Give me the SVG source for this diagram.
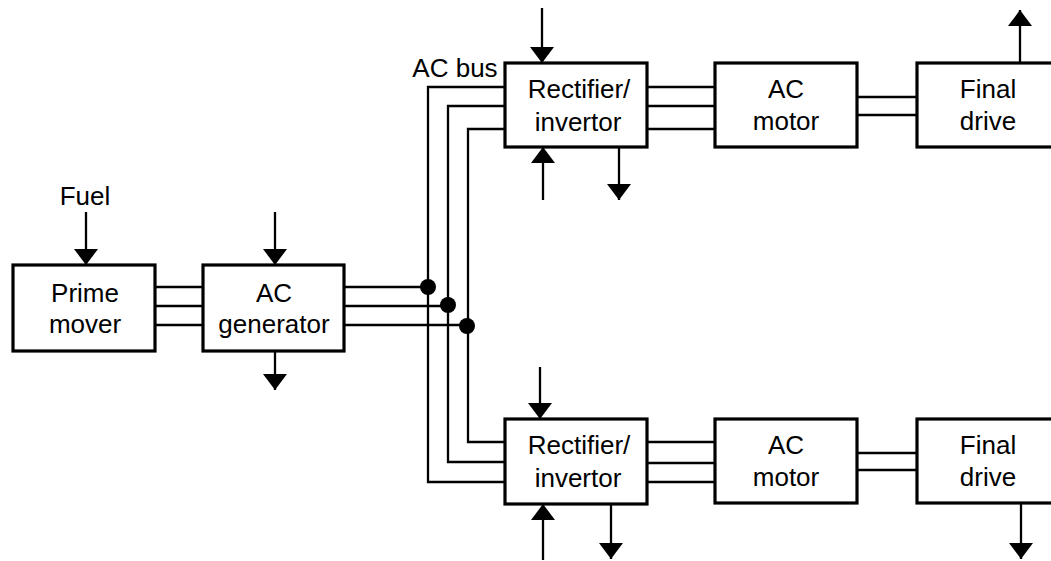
<svg xmlns="http://www.w3.org/2000/svg" width="1051" height="561" viewBox="0 0 1051 561">
<defs>
<marker id="ah" viewBox="0 0 16 24" refX="16" refY="12" markerWidth="16" markerHeight="24" markerUnits="userSpaceOnUse" orient="auto">
<path d="M0,0 L16,12 L0,24 Z" fill="#000"/>
</marker>
</defs>
<style>
.box{fill:#fff;stroke:#000;stroke-width:3.2}
.ln{fill:none;stroke:#000;stroke-width:2.3}
.ar{fill:none;stroke:#000;stroke-width:2.3;marker-end:url(#ah)}
.dot{fill:#000}
text{font-family:"Liberation Sans",Arial,sans-serif;font-size:26px;fill:#000;text-anchor:middle}
</style>
<rect width="1051" height="561" fill="#fff"/>
<g id="connectors">
<line class="ln" x1="155" y1="287" x2="203" y2="287"/>
<line class="ln" x1="155" y1="306" x2="203" y2="306"/>
<line class="ln" x1="155" y1="325" x2="203" y2="325"/>
<line class="ln" x1="344" y1="287" x2="428" y2="287"/>
<line class="ln" x1="344" y1="306" x2="448" y2="306"/>
<line class="ln" x1="344" y1="325" x2="467" y2="325"/>
<polyline class="ln" points="505,87 428,87 428,482 505,482"/>
<polyline class="ln" points="505,106 448,106 448,462 505,462"/>
<polyline class="ln" points="505,129 468,129 468,442 505,442"/>
<circle class="dot" cx="428" cy="287" r="8"/>
<circle class="dot" cx="448" cy="305" r="8"/>
<circle class="dot" cx="467" cy="326" r="8"/>
<line class="ln" x1="647" y1="87" x2="715" y2="87"/>
<line class="ln" x1="647" y1="106" x2="715" y2="106"/>
<line class="ln" x1="647" y1="129" x2="715" y2="129"/>
<line class="ln" x1="857" y1="97" x2="917" y2="97"/>
<line class="ln" x1="857" y1="115" x2="917" y2="115"/>
<line class="ln" x1="647" y1="442" x2="715" y2="442"/>
<line class="ln" x1="647" y1="463" x2="715" y2="463"/>
<line class="ln" x1="647" y1="482" x2="715" y2="482"/>
<line class="ln" x1="857" y1="453" x2="917" y2="453"/>
<line class="ln" x1="857" y1="470" x2="917" y2="470"/>
<line class="ar" x1="86" y1="212" x2="86" y2="265"/>
<line class="ar" x1="275" y1="212" x2="275" y2="265"/>
<line class="ar" x1="275" y1="351" x2="275" y2="390"/>
<line class="ar" x1="542" y1="8" x2="542" y2="63"/>
<line class="ar" x1="543" y1="200" x2="543" y2="147"/>
<line class="ar" x1="619" y1="147" x2="619" y2="200"/>
<line class="ar" x1="1020" y1="63" x2="1020" y2="10"/>
<line class="ar" x1="540" y1="367" x2="540" y2="419"/>
<line class="ar" x1="543" y1="560" x2="543" y2="504"/>
<line class="ar" x1="611" y1="504" x2="611" y2="559"/>
<line class="ar" x1="1021" y1="503" x2="1021" y2="559"/>
</g>
<g id="prime-mover">
<rect class="box" x="13" y="265" width="142" height="86"/>
<text x="85" y="302">Prime</text>
<text x="85" y="333">mover</text>
</g>
<g id="ac-generator">
<rect class="box" x="203" y="265" width="141" height="86"/>
<text x="274" y="302">AC</text>
<text x="274" y="333">generator</text>
</g>
<g id="rectifier-top">
<rect class="box" x="505" y="63" width="142" height="84"/>
<text x="579" y="98">Rectifier/</text>
<text x="578" y="131">invertor</text>
</g>
<g id="motor-top">
<rect class="box" x="715" y="63" width="142" height="84"/>
<text x="786" y="98">AC</text>
<text x="786" y="130">motor</text>
</g>
<g id="final-top">
<rect class="box" x="917" y="63" width="150" height="84"/>
<text x="988" y="98">Final</text>
<text x="988" y="130">drive</text>
</g>
<g id="rectifier-bottom">
<rect class="box" x="505" y="419" width="142" height="85"/>
<text x="579" y="454">Rectifier/</text>
<text x="578" y="487">invertor</text>
</g>
<g id="motor-bottom">
<rect class="box" x="715" y="419" width="142" height="84"/>
<text x="786" y="454">AC</text>
<text x="786" y="486">motor</text>
</g>
<g id="final-bottom">
<rect class="box" x="917" y="419" width="150" height="84"/>
<text x="988" y="454">Final</text>
<text x="988" y="486">drive</text>
</g>
<g id="labels">
<text x="85" y="205">Fuel</text>
<text x="455" y="77">AC bus</text>
</g>
</svg>
